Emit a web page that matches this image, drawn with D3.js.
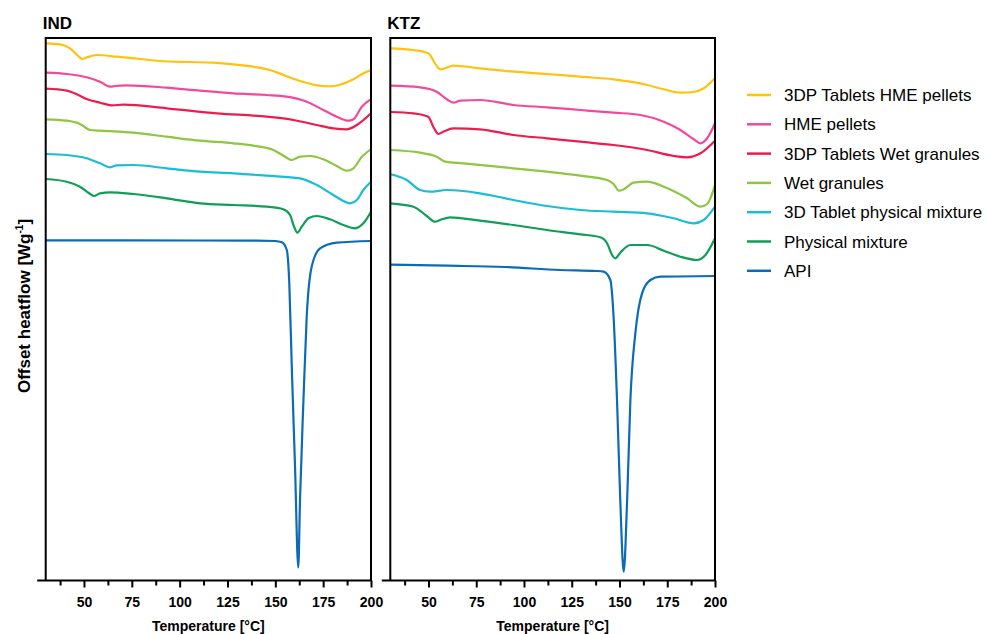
<!DOCTYPE html>
<html>
<head>
<meta charset="utf-8">
<script src="https://cdn.jsdelivr.net/npm/d3@7/dist/d3.min.js"></script>
<style>
  html, body { margin: 0; padding: 0; background: #fff; }
  svg { display: block; font-family: "Liberation Sans", Arial, Helvetica, sans-serif; }
</style>
</head>
<body>
<svg id="chart" width="988" height="634"></svg>
<script>
// DSC thermograms: [temperature °C, offset heat flow (a.u.)]
const seriesNames = [
  "3DP Tablets HME pellets",
  "HME pellets",
  "3DP Tablets Wet granules",
  "Wet granules",
  "3D Tablet physical mixture",
  "Physical mixture",
  "API"
];
const seriesColors = ["#FFC20E", "#F5489B", "#EF1A4D", "#8DC63F", "#19BDD6", "#0F9E55", "#0B6BB5"];

const majorTicks = [50, 75, 100, 125, 150, 175, 200];
const minorTicks = [37.5, 62.5, 87.5, 112.5, 137.5, 162.5, 187.5];

// ---- IND ----
const ind3dpHme = [[30,53.67],[37.5,53.57],[42.7,53.17],[47.0,52.4],[49.3,52.1],[51.7,52.27],[56.7,52.5],[67.1,52.33],[79.3,52.1],[89.7,51.9],[103.7,51.8],[117.6,51.73],[128.1,51.57],[138.5,51.33],[147.2,51.0],[154.2,50.5],[162.9,49.9],[171.7,49.47],[178.6,49.37],[183.8,49.53],[190.8,50.07],[196.0,50.67],[200,51.0]];
const indHme = [[30,50.73],[41.0,50.6],[51.4,50.27],[58.4,49.83],[63.6,49.33],[66.2,49.4],[72.3,49.47],[93.2,49.23],[110.7,48.93],[128.1,48.67],[145.5,48.5],[156.0,48.33],[166.4,47.83],[175.1,47.0],[182.1,46.33],[188.2,45.93],[190.8,46.07],[195.2,47.33],[200,48.07]];
const ind3dpWet = [[30,49.13],[41.0,48.93],[47.0,48.5],[51.7,48.07],[58.4,47.73],[64.5,47.47],[70.6,47.53],[93.2,47.17],[119.4,46.67],[145.5,46.33],[159.4,46.0],[171.7,45.5],[180.3,45.17],[187.3,45.07],[192.6,45.5],[200,46.67]];
const indWet = [[30,46.07],[41.0,45.93],[47.9,45.6],[53.2,45.0],[58.4,44.93],[75.8,44.73],[93.2,44.33],[110.7,43.93],[128.1,43.67],[138.5,43.43],[149.0,43.0],[155.1,42.33],[158.6,42.0],[162.9,42.33],[168.2,42.4],[175.1,42.07],[182.1,41.4],[187.3,40.93],[190.8,41.17],[195.2,42.33],[200,43.07]];
const ind3dPm = [[30,42.6],[41.0,42.5],[51.4,42.17],[58.4,41.67],[63.6,41.27],[67.1,41.47],[75.8,41.5],[93.2,41.17],[110.7,40.83],[128.1,40.67],[145.5,40.43],[162.9,40.17],[171.7,39.5],[180.3,38.5],[189.1,37.67],[192.6,38.0],[196.0,39.0],[200,39.83]];
const indPm = [[30,40.1],[41.0,39.83],[47.9,39.33],[52.3,38.73],[55.2,38.4],[58.4,38.67],[63.6,38.77],[75.8,38.6],[93.2,38.17],[110.7,37.67],[128.1,37.5],[145.5,37.33],[154.2,37.07],[157.7,36.5],[159.8,35.33],[161.5,34.73],[163.8,35.33],[167.3,36.17],[171.7,36.4],[178.6,36.07],[185.6,35.5],[191.7,35.17],[196.0,35.67],[200,36.83]];
const indApi = [[30,33.97],[70,33.96],[110,33.95],[140,33.94],[150,33.9],[153.4,33.77],[156.0,33.0],[157.3,29.67],[158.6,21.33],[160.3,11.33],[162.0,1.25],[162.9,8.0],[164.7,18.0],[166.4,26.33],[169.0,31.33],[173.4,33.17],[182.1,33.73],[200,33.9]];

// ---- KTZ ----
const ktz3dpHme = [[30,53.17],[42.1,53.0],[49.9,52.67],[53.4,51.67],[56.1,51.07],[58.7,51.17],[63.0,51.43],[77.0,51.17],[94.5,50.83],[112.0,50.6],[129.5,50.33],[146.9,50.07],[155.7,49.83],[164.5,49.5],[173.2,49.07],[181.9,48.73],[188.9,48.8],[194.1,49.17],[200,50.17]];
const ktzHme = [[30,49.43],[45.6,49.27],[54.3,48.83],[59.6,48.07],[63.0,47.73],[66.6,47.93],[77.0,48.0],[94.5,47.5],[112.0,47.27],[129.5,47.0],[146.9,46.73],[160.9,46.5],[173.2,45.83],[181.9,45.0],[188.9,44.07],[192.4,43.67],[195.9,44.17],[200,45.67]];
const ktz3dpWet = [[30,46.8],[42.1,46.67],[49.9,46.33],[52.5,45.33],[55.2,44.6],[57.8,44.83],[63.0,45.17],[77.0,45.07],[94.5,44.5],[112.0,44.17],[129.5,43.83],[146.9,43.5],[164.5,43.0],[178.4,42.4],[185.4,42.27],[192.4,42.67],[200,43.93]];
const ktzWet = [[30,43.0],[45.6,42.73],[54.3,42.33],[58.7,41.83],[68.3,41.67],[94.5,41.17],[112.0,40.83],[129.5,40.43],[143.5,40.0],[146.9,39.6],[149.6,38.93],[152.2,39.07],[157.4,39.73],[164.5,39.83],[173.2,39.33],[185.4,38.17],[192.4,37.33],[195.9,37.6],[200,39.5]];
const ktz3dPm = [[30,40.57],[38.6,40.0],[45.6,39.0],[50.8,38.83],[59.6,39.0],[77.0,38.67],[94.5,38.0],[112.0,37.4],[129.5,37.0],[146.9,36.83],[164.5,36.67],[178.4,36.17],[188.9,35.67],[194.1,36.0],[200,37.33]];
const ktzPm = [[30,37.67],[42.1,37.33],[49.1,36.4],[53.4,35.83],[56.1,36.0],[61.3,36.27],[77.0,35.93],[94.5,35.5],[112.0,35.0],[129.5,34.57],[140.0,34.27],[143.5,33.67],[146.1,32.5],[147.8,32.17],[150.4,32.73],[155.7,33.5],[164.5,33.5],[173.2,32.93],[181.9,32.33],[190.7,32.0],[195.0,32.5],[200,34.17]];
const ktzApi = [[30,31.53],[60,31.43],[90,31.3],[119,31.0],[138.2,30.9],[141.7,30.83],[145.2,30.0],[146.9,26.33],[148.7,18.0],[150.4,8.0],[152.2,0.83],[154.0,8.0],[155.7,18.0],[158.3,24.67],[161.8,28.67],[166.2,30.0],[171.4,30.33],[200,30.4]];

const panels = [
  { title: "IND", left: 45.7, right: 371, series: [ind3dpHme, indHme, ind3dpWet, indWet, ind3dPm, indPm, indApi] },
  { title: "KTZ", left: 390.3, right: 715, series: [ktz3dpHme, ktzHme, ktz3dpWet, ktzWet, ktz3dPm, ktzPm, ktzApi] }
];

const svg = d3.select("#chart");
const plotTop = 38, plotBottom = 580.5;
const y = d3.scaleLinear().domain([0, 54.2]).range([580, 38]);

const defs = svg.append("defs");

panels.forEach((p, pi) => {
  const x = d3.scaleLinear().domain([30, 200]).range([p.left, p.right]);
  const g = svg.append("g");

  // clip region for the curves
  defs.append("clipPath").attr("id", "clip" + pi)
    .append("rect").attr("x", p.left).attr("y", plotTop)
    .attr("width", p.right - p.left).attr("height", plotBottom - plotTop);

  // panel title
  g.append("text").attr("x", p.left - 3).attr("y", 29)
    .attr("font-size", 17).attr("font-weight", "bold").attr("fill", "#000")
    .text(p.title);

  // curves
  const line = d3.line().x(d => x(d[0])).y(d => y(d[1])).curve(d3.curveMonotoneX);
  const curves = g.append("g").attr("clip-path", `url(#clip${pi})`);
  p.series.forEach((s, i) => {
    curves.append("path").datum(s)
      .attr("fill", "none")
      .attr("stroke", seriesColors[i])
      .attr("stroke-width", 2.2)
      .attr("stroke-linejoin", "round")
      .attr("d", line);
  });

  // frame: left, top, right
  g.append("path")
    .attr("d", `M${p.left},${plotBottom} V${plotTop} H${p.right} V${plotBottom}`)
    .attr("fill", "none").attr("stroke", "#000").attr("stroke-width", 2);

  // x axis: minor ticks, then major ticks with labels
  const minorAxis = d3.axisBottom(x).tickValues(minorTicks).tickSize(5).tickSizeOuter(0).tickFormat("");
  const majorAxis = d3.axisBottom(x).tickValues(majorTicks).tickSize(7).tickSizeOuter(0).tickPadding(10);
  const gMinor = g.append("g").attr("transform", `translate(0,${plotBottom})`).call(minorAxis);
  const gMajor = g.append("g").attr("transform", `translate(0,${plotBottom})`).call(majorAxis);
  [gMinor, gMajor].forEach(a => {
    a.select(".domain").remove();
    a.selectAll(".tick line").attr("stroke", "#000").attr("stroke-width", 2);
  });
  gMajor.selectAll(".tick text")
    .attr("font-family", "'Liberation Sans', Arial, sans-serif")
    .attr("font-size", 14).attr("font-weight", "bold").attr("fill", "#000");
  g.append("line")
    .attr("x1", p.left - 8.5).attr("x2", p.right + 1)
    .attr("y1", plotBottom).attr("y2", plotBottom)
    .attr("stroke", "#000").attr("stroke-width", 2);

  // x axis title
  g.append("text")
    .attr("x", (p.left + p.right) / 2).attr("y", 631)
    .attr("text-anchor", "middle")
    .attr("font-size", 14).attr("font-weight", "bold").attr("fill", "#000")
    .text("Temperature [°C]");
});

// y axis title
const yTitle = svg.append("text")
  .attr("transform", "translate(29.5,306) rotate(-90)")
  .attr("text-anchor", "middle")
  .attr("font-size", 17).attr("font-weight", "bold").attr("fill", "#000");
yTitle.append("tspan").text("Offset heatflow [Wg");
yTitle.append("tspan").attr("font-size", 10).attr("dy", -7).text("-1");
yTitle.append("tspan").attr("dy", 7).text("]");

// legend
const legend = svg.append("g");
seriesNames.forEach((name, i) => {
  const cy = 95 + i * 29.3;
  legend.append("line")
    .attr("x1", 747).attr("x2", 771).attr("y1", cy).attr("y2", cy)
    .attr("stroke", seriesColors[i]).attr("stroke-width", 2.5);
  legend.append("text")
    .attr("x", 784).attr("y", cy + 6)
    .attr("font-size", 17).attr("fill", "#000")
    .text(name);
});
</script>
</body>
</html>
